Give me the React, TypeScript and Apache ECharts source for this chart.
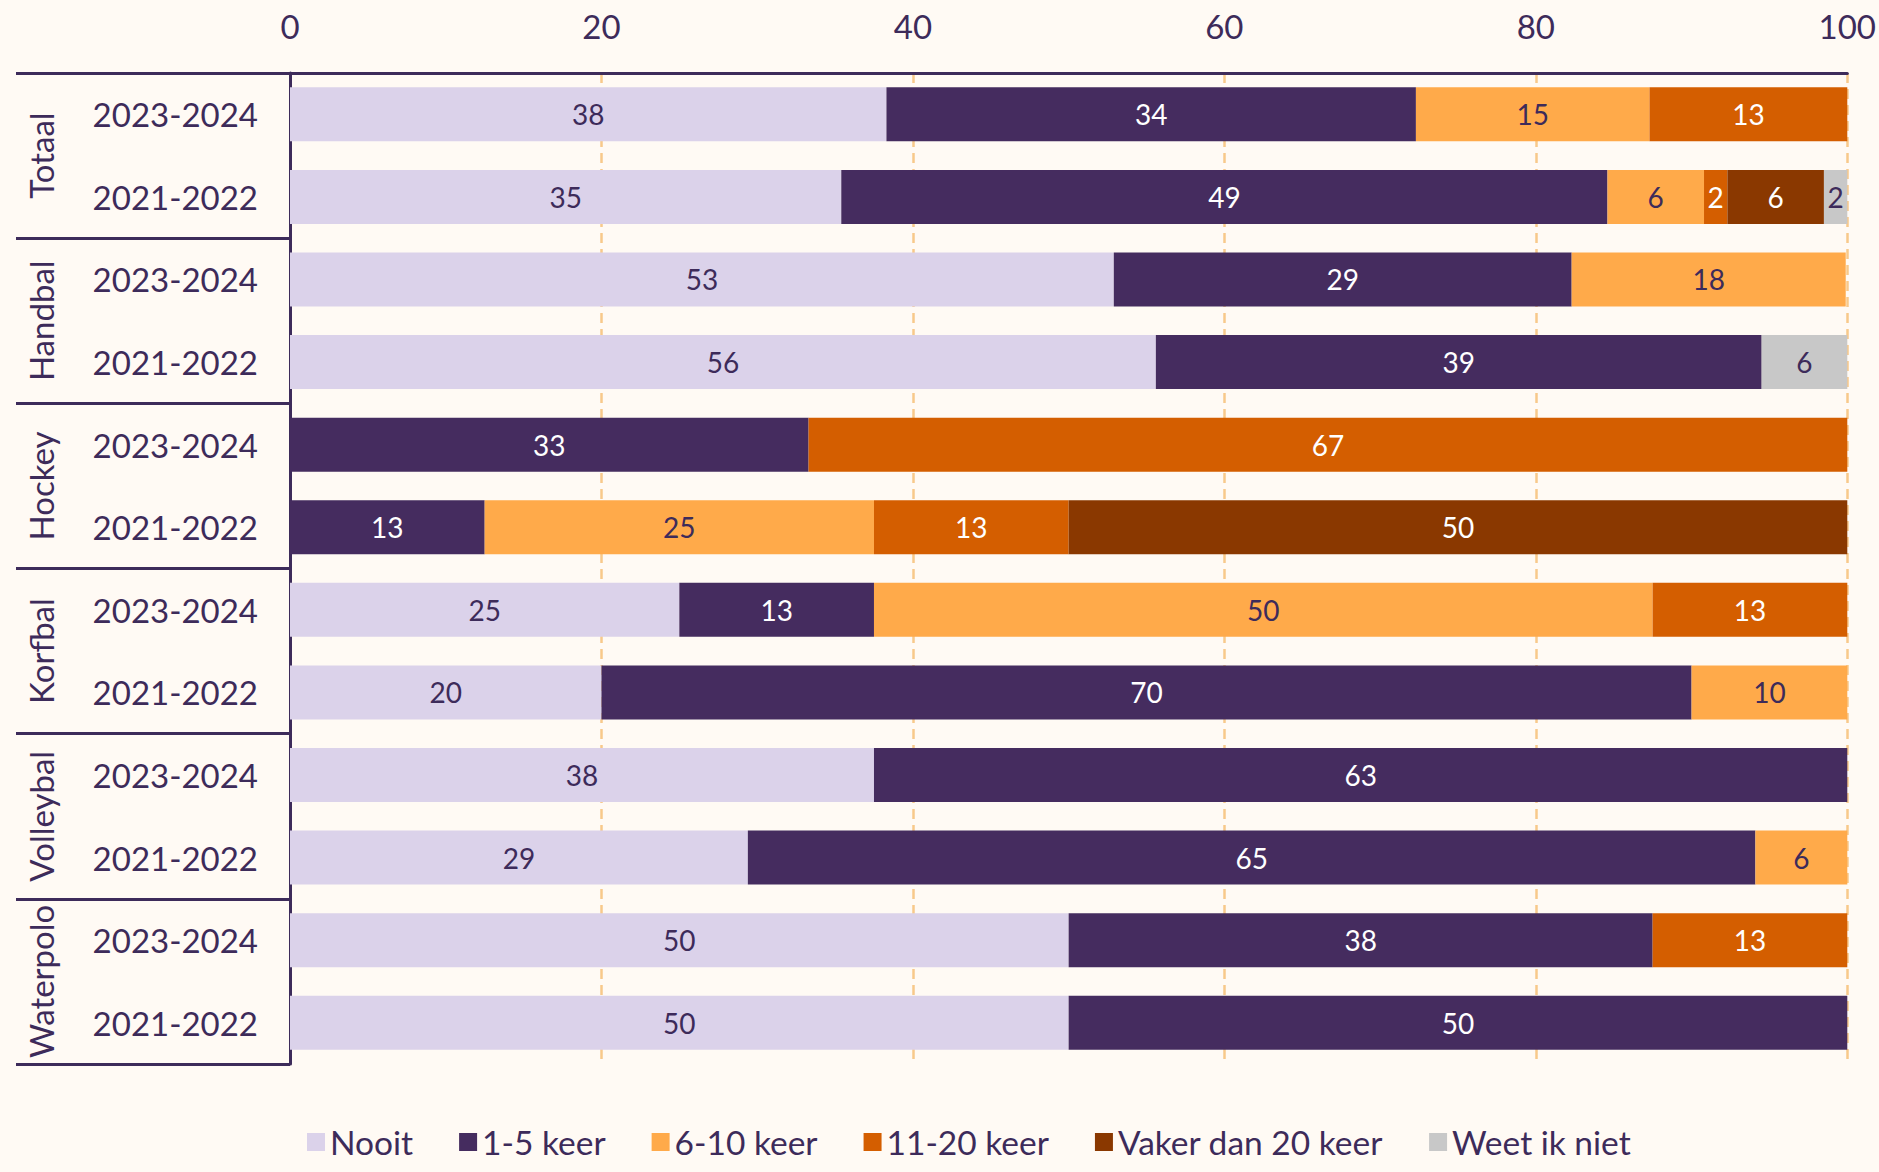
import React, { useEffect, useRef } from "react";
import * as echarts from "echarts";

const groups = ["Totaal", "Handbal", "Hockey", "Korfbal", "Volleybal", "Waterpolo"];
const years = ["2023-2024", "2021-2022"];
const rowLabels = groups.flatMap((g) => years.map((y) => g + "|" + y));

const seriesNames = ["Nooit", "1-5 keer", "6-10 keer", "11-20 keer", "Vaker dan 20 keer", "Weet ik niet"];

// rows: Totaal 23-24, Totaal 21-22, Handbal 23-24, Handbal 21-22, Hockey 23-24, Hockey 21-22,
// Korfbal 23-24, Korfbal 21-22, Volleybal 23-24, Volleybal 21-22, Waterpolo 23-24, Waterpolo 21-22
const nooit = [38.3, 35.4, 52.9, 55.6, null, null, 25, 20, 37.5, 29.4, 50, 50];
const keer1_5 = [34.0, 49.2, 29.4, 38.9, 33.3, 12.5, 12.5, 70, 62.5, 64.7, 37.5, 50];
const keer6_10 = [15.0, 6.2, 17.6, null, null, 25, 50, 10, null, 5.9, null, null];
const keer11_20 = [12.7, 1.5, null, null, 66.7, 12.5, 12.5, null, null, null, 12.5, null];
const vaker20 = [null, 6.2, null, null, null, 50, null, null, null, null, null, null];
const weetNiet = [null, 1.5, null, 5.6, null, null, null, null, null, null, null, null];

const seriesValues = [nooit, keer1_5, keer6_10, keer11_20, vaker20, weetNiet];
const seriesColors = ["#dbd2ea", "#452c5f", "#ffaa4a", "#d45e00", "#8a3800", "#c8c8c8"];
const labelColors = ["#3d2b5a", "#ffffff", "#3d2b5a", "#ffffff", "#ffffff", "#3d2b5a"];

const xTicks = [0, 20, 40, 60, 80, 100];

const DARK = "#3d2b5a";
const FONT = "Lato";

export default function App() {
  const ref = useRef<HTMLDivElement>(null);
  useEffect(() => {
    if (!ref.current) return;
    const chart = echarts.init(ref.current, null, { renderer: "svg" });
    chart.setOption({
      animation: false,
      backgroundColor: "#fffaf4",
      textStyle: { fontFamily: FONT },
      grid: { left: 290, right: 27, top: 73, bottom: 108, containLabel: false },
      legend: {
        left: 302,
        top: 1120,
        itemWidth: 18,
        itemHeight: 18,
        itemGap: 46,
        icon: "rect",
        textStyle: { fontSize: 33.5, color: DARK, fontFamily: FONT },
        data: seriesNames,
      },
      xAxis: {
        type: "value",
        position: "top",
        min: xTicks[0],
        max: xTicks[xTicks.length - 1],
        interval: 20,
        axisLine: { show: true, lineStyle: { color: DARK, width: 3 } },
        axisTick: { show: false },
        axisLabel: { fontSize: 33, color: DARK, margin: 31, fontFamily: FONT },
        splitLine: { show: true, lineStyle: { color: "#f8c98a", width: 2.5, type: [10, 6] } },
      },
      yAxis: [
        {
          type: "category",
          inverse: true,
          position: "left",
          data: rowLabels,
          axisLine: { show: false },
          axisTick: { show: false },
          axisLabel: {
            fontSize: 33,
            color: DARK,
            margin: 32,
            fontFamily: FONT,
            formatter: (v: string) => v.split("|")[1],
          },
          splitLine: { show: false },
        },
        {
          type: "category",
          inverse: true,
          position: "left",
          data: groups,
          axisLine: { show: true, onZero: false, lineStyle: { color: DARK, width: 3 } },
          axisTick: { show: true, interval: 0, length: 274, lineStyle: { color: DARK, width: 3 } },
          axisLabel: { rotate: 90, fontSize: 33, color: DARK, margin: 233, fontFamily: FONT, interval: 0 },
          splitLine: { show: false },
        },
      ],
      series: seriesNames.map((name, i) => ({
        name,
        type: "bar",
        stack: "total",
        yAxisIndex: 0,
        barWidth: 54,
        itemStyle: { color: seriesColors[i] },
        label: {
          show: true,
          position: "inside",
          fontSize: 28,
          fontFamily: FONT,
          color: labelColors[i],
          formatter: (p: any) => (p.value == null ? "" : String(Math.round(p.value))),
        },
        data: seriesValues[i],
      })),
    });
    return () => chart.dispose();
  }, []);
  return (
    <div
      ref={ref}
      style={{ position: "fixed", left: 0, top: 0, width: 1879, height: 1172 }}
    />
  );
}
